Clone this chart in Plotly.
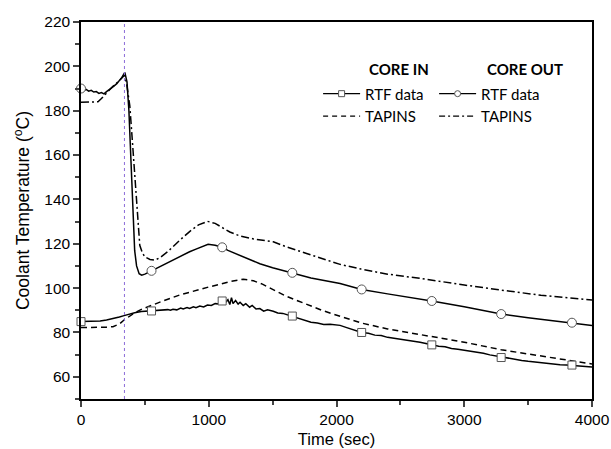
import plotly.graph_objects as go

# ---------------- data ----------------
event_time = 340  # dotted vertical marker (sec)

core_in_rtf_t = [0, 50, 100, 150, 200, 250, 300, 337, 380, 420, 473, 520, 552, 600, 640, 680, 700, 720, 750,
                 780, 800, 830, 850, 880, 900, 930, 960, 990, 1020, 1050, 1080, 1105, 1130, 1150, 1165, 1178,
                 1190, 1210, 1230, 1245, 1270, 1290, 1320, 1340, 1370, 1400, 1430, 1460, 1505, 1540, 1580,
                 1620, 1654, 1700, 1750, 1800, 1850, 1900, 1950, 2028, 2080, 2130, 2197, 2250, 2300, 2350,
                 2400, 2450, 2500, 2550, 2600, 2654, 2700, 2746, 2800, 2850, 2900, 2950, 3000, 3050, 3100,
                 3150, 3200, 3250, 3289, 3350, 3400, 3450, 3500, 3550, 3600, 3650, 3700, 3750, 3800, 3843,
                 3900, 3950, 4000]
core_in_rtf_v = [84.9, 84.9, 85.0, 85.2, 85.6, 86.2, 87.0, 87.6, 88.3, 88.9, 89.4, 89.6, 89.7, 89.8, 90.0,
                 90.3, 90.0, 90.5, 90.2, 91.0, 90.6, 91.2, 90.8, 91.6, 91.2, 91.9, 91.5, 92.4, 92.2, 93.0,
                 92.8, 93.8, 93.4, 94.8, 92.6, 95.7, 93.0, 94.4, 92.8, 93.6, 92.2, 93.0, 91.4, 92.2, 90.6,
                 90.8, 89.6, 90.2, 89.6, 88.8, 88.6, 87.9, 87.4, 86.4, 85.6, 84.6, 84.3, 83.6, 83.7, 83.2,
                 82.2, 81.2, 80.0, 79.6, 78.8, 78.6, 77.8, 77.4, 77.0, 76.6, 76.2, 75.6, 75.0, 74.4, 73.8,
                 73.6, 72.8, 72.4, 72.0, 71.6, 71.0, 70.6, 69.9, 69.4, 68.7, 68.4, 67.8, 67.4, 67.0, 66.7,
                 66.4, 66.0, 65.5, 65.4, 65.3, 65.1, 64.8, 64.6, 64.4]

core_in_tap_t = [0, 100, 200, 250, 300, 337, 380, 420, 480, 550, 650, 773, 900, 1000, 1087, 1170, 1270, 1350,
                 1420, 1505, 1600, 1700, 1766, 1900, 2028, 2200, 2400, 2654, 2746, 3000, 3289, 3500, 3843,
                 4000]
core_in_tap_v = [82.2, 82.2, 82.4, 82.6, 83.8, 85.6, 87.4, 88.9, 90.6, 92.2, 94.4, 96.9, 99.0, 100.5, 101.7,
                 103.0, 104.0, 103.3, 101.8, 99.3, 96.5, 94.2, 92.7, 89.7, 87.3, 84.2, 81.6, 79.0, 78.3, 75.6,
                 72.2, 70.3, 67.5, 65.8]

core_out_rtf_t = [0, 20, 40, 60, 80, 100, 120, 140, 160, 180, 200, 220, 240, 260, 280, 300, 320, 343, 360,
                  375, 390, 400, 410, 420, 435, 455, 475, 500, 552, 600, 650, 700, 750, 800, 850, 900, 950,
                  995, 1050, 1105, 1150, 1245, 1300, 1400, 1500, 1654, 1800, 2028, 2197, 2400, 2654, 2746,
                  3000, 3289, 3500, 3843, 4000]
core_out_rtf_v = [190.0, 189.0, 189.6, 188.8, 189.2, 188.4, 188.6, 187.8, 188.2, 187.6, 188.6, 189.4, 190.2,
                  191.2, 192.2, 193.4, 195.0, 197.3, 193.0, 180.0, 160.0, 145.0, 130.0, 117.0, 110.0, 106.5,
                  105.8, 106.3, 107.8, 109.2, 110.6, 112.2, 113.6, 115.0, 116.4, 117.6, 118.8, 119.8, 119.3,
                  118.4, 117.0, 114.8, 113.4, 111.0, 109.2, 106.9, 104.6, 102.1, 99.4, 97.4, 95.3, 94.2,
                  91.6, 88.3, 86.6, 84.4, 83.1]

core_out_tap_t = [0, 60, 100, 133, 160, 200, 250, 300, 340, 356, 382, 400, 421, 434, 445, 460, 480, 499, 540,
                  578, 620, 680, 773, 850, 920, 990, 1050, 1100, 1165, 1245, 1350, 1505, 1600, 1766, 2028,
                  2192, 2400, 2654, 2740, 3000, 3289, 3600, 4000]
core_out_tap_v = [183.8, 183.8, 183.8, 184.0, 185.5, 188.0, 191.0, 193.5, 196.0, 192.7, 182.2, 168.0, 149.3,
                  141.8, 130.0, 119.3, 116.0, 114.1, 112.9, 112.6, 113.8, 116.5, 121.6, 125.5, 128.5, 130.1,
                  129.2, 127.6, 125.3, 123.5, 122.2, 120.9, 118.8, 115.6, 110.7, 108.6, 106.3, 104.4, 103.6,
                  101.4, 99.1, 96.8, 94.6]

marker_t = [0, 552, 1105, 1654, 2197, 2746, 3289, 3843]
core_in_marker_v = [84.9, 89.7, 94.2, 87.4, 80.0, 74.4, 68.7, 65.3]
core_out_marker_v = [190.0, 107.8, 118.4, 106.9, 99.4, 94.2, 88.3, 84.4]

group_titles = ["CORE IN", "CORE OUT"]

# ---------------- figure ----------------
fig = go.Figure()
BLACK = "black"
LW = 1.5
mk_line = dict(color="#555555", width=1)

fig.add_trace(go.Scatter(x=core_in_rtf_t, y=core_in_rtf_v, mode="lines",
                         line=dict(color=BLACK, width=LW), showlegend=False))
fig.add_trace(go.Scatter(x=core_in_tap_t, y=core_in_tap_v, mode="lines",
                         line=dict(color=BLACK, width=LW, dash="6px,4px"), showlegend=False))
fig.add_trace(go.Scatter(x=core_out_rtf_t, y=core_out_rtf_v, mode="lines",
                         line=dict(color=BLACK, width=LW), showlegend=False))
fig.add_trace(go.Scatter(x=core_out_tap_t, y=core_out_tap_v, mode="lines",
                         line=dict(color=BLACK, width=LW, dash="8px,3px,2px,3px"), showlegend=False))

fig.add_trace(go.Scatter(x=marker_t, y=core_in_marker_v, mode="markers", cliponaxis=False,
                         marker=dict(symbol="square", size=8, color="white", line=mk_line),
                         showlegend=False))
fig.add_trace(go.Scatter(x=marker_t, y=core_out_marker_v, mode="markers", cliponaxis=False,
                         marker=dict(symbol="circle", size=9, color="white", line=mk_line),
                         showlegend=False))

# legend entries
fig.add_trace(go.Scatter(x=[None], y=[None], mode="lines+markers", name="RTF data", legend="legend",
                         line=dict(color=BLACK, width=1.2),
                         marker=dict(symbol="square", size=6, color="white", line=mk_line)))
fig.add_trace(go.Scatter(x=[None], y=[None], mode="lines", name="TAPINS", legend="legend",
                         line=dict(color=BLACK, width=1.2, dash="5px,4px")))
fig.add_trace(go.Scatter(x=[None], y=[None], mode="lines+markers", name="RTF data", legend="legend2",
                         line=dict(color=BLACK, width=1.2),
                         marker=dict(symbol="circle", size=6, color="white", line=mk_line)))
fig.add_trace(go.Scatter(x=[None], y=[None], mode="lines", name="TAPINS", legend="legend2",
                         line=dict(color=BLACK, width=1.2, dash="6px,3px,2px,3px")))

fig.add_vline(x=event_time, line=dict(color="#8c6cd8", width=1, dash="dot"))

leg_font = dict(family="Lato, Open Sans, sans-serif", size=15, color="black")
common_leg = dict(font=leg_font, bgcolor="rgba(0,0,0,0)", borderwidth=0, itemwidth=37,
                  xanchor="left", yanchor="top", traceorder="normal")
fig.update_layout(
    width=611, height=449,
    margin=dict(l=81, r=19, t=22, b=50),
    paper_bgcolor="white", plot_bgcolor="white",
    font=dict(family="Liberation Sans, Arial, sans-serif", size=15, color="black"),
    legend=dict(x=0.464, y=0.853, **common_leg),
    legend2=dict(x=0.691, y=0.853, **common_leg),
)
for title, xpos in zip(group_titles, [0.559, 0.790]):
    fig.add_annotation(text="<b>%s</b>" % title, xref="paper", yref="paper", x=xpos, y=0.876,
                       xanchor="left", yanchor="middle", showarrow=False, font=leg_font)

fig.update_xaxes(range=[0, 4000], tick0=0, dtick=1000, ticks="outside", ticklen=6, tickwidth=1.5,
                 showline=True, linewidth=1.5, linecolor="black", mirror=True, showgrid=False,
                 zeroline=False, automargin=False,
                 minor=dict(dtick=500, ticks="outside", ticklen=4, tickwidth=1.5),
                 title=dict(text="Time (sec)", standoff=6, font=dict(size=16.5)),
                 tickfont=dict(size=15.5))
fig.update_yaxes(range=[50, 220], tick0=0, dtick=20, ticks="outside", ticklen=6, tickwidth=1.5,
                 showline=True, linewidth=1.5, linecolor="black", mirror=True, showgrid=False,
                 zeroline=False, automargin=False,
                 minor=dict(dtick=10, ticks="outside", ticklen=4, tickwidth=1.5),
                 title=dict(text="Coolant Temperature (<sup>o</sup>C)", standoff=10, font=dict(size=17.5)),
                 tickfont=dict(size=15.5))

fig.write_html("out.html", config={"displayModeBar": False},
               post_script="document.body.style.margin='0';document.body.style.overflow='hidden';")
